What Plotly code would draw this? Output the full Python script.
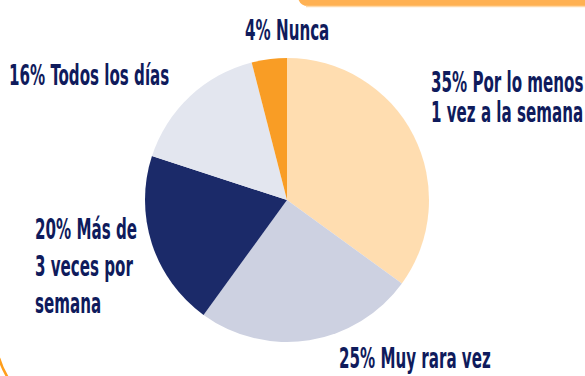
import plotly.graph_objects as go

W, H = 585, 376

# Survey shares, clockwise from 12 o'clock
categories = ["Por lo menos 1 vez a la semana", "Muy rara vez", "Más de 3 veces por semana",
              "Todos los días", "Nunca"]
shares = [35, 25, 20, 16, 4]
slice_colors = ["#FFDDB0", "#CDD1E1", "#1B2A69", "#E3E6EF", "#F99D25"]

# Label lines per slice (same order as categories)
label_lines = [
    ["35% Por lo menos", "1 vez a la semana"],
    ["25% Muy rara vez"],
    ["20% Más de", "3 veces por", "semana"],
    ["16% Todos los días"],
    ["4% Nunca"],
]

TEXT_COLOR = "#0F1B5C"
FONT = "DejaVu Sans Condensed, DejaVu Sans, sans-serif"
FONT_SIZE = 28
TEXT_SQUEEZE = 0.60  # horizontal compression for a condensed display face


def px(x):
    return x / W


def py(y):
    return 1 - y / H


# pie centre and radius in pixels
cx, cy, r = 287, 200, 142

fig = go.Figure(go.Pie(
    labels=categories,
    values=shares,
    sort=False,
    direction="clockwise",
    rotation=0,
    marker=dict(colors=slice_colors, line=dict(width=0)),
    textinfo="none",
    hoverinfo="label+percent",
    showlegend=False,
    domain=dict(x=[px(cx - r), px(cx + r)], y=[py(cy + r), py(cy - r)]),
))

# label anchor positions: (x, first-line centre y, line spacing, anchor)
label_pos = [
    (429, 83, 30, "left"),
    (337, 358, 30, "left"),
    (33, 229, 37, "left"),
    (7, 75, 30, "left"),
    (287, 31, 30, "center"),
]

annotations = []
for lines, (x, y0, dy, anchor) in zip(label_lines, label_pos):
    for i, line in enumerate(lines):
        annotations.append(dict(
            text=line, x=px(x), y=py(y0 + i * dy), xref="paper", yref="paper",
            xanchor=anchor, yanchor="middle", showarrow=False,
            align="left" if anchor == "left" else "center",
            font=dict(family=FONT, size=FONT_SIZE, color=TEXT_COLOR, weight="bold"),
        ))

# decorative frame pieces: top tab and lower-left rounded border
shapes = [
    dict(type="path", xref="paper", yref="paper",
         path=f"M {px(298)},{py(-2)} L {px(W)},{py(-2)} L {px(W)},{py(6)} "
              f"L {px(308)},{py(6)} Q {px(300)},{py(6)} {px(298)},{py(-2)} Z",
         fillcolor="#FFB152", line=dict(width=0), layer="above"),
    dict(type="line", xref="paper", yref="paper",
         x0=px(306), x1=px(W), y0=py(6.5), y1=py(6.5),
         line=dict(color="#FFD9A8", width=1.5)),
    dict(type="path", xref="paper", yref="paper",
         path=f"M {px(-1)},{py(358)} Q {px(2)},{py(368)} {px(8)},{py(378)}",
         line=dict(color="#FF9E1B", width=2.5)),
]

fig.update_layout(
    width=W, height=H,
    margin=dict(l=0, r=0, t=0, b=0),
    paper_bgcolor="white",
    plot_bgcolor="white",
    annotations=annotations,
    shapes=shapes,
)

# Narrow the label glyphs horizontally, keeping each label's anchor edge fixed
squeeze_js = """
var gd = document.getElementById('{plot_id}');
gd.querySelectorAll('text.annotation-text').forEach(function (el) {
  var b = el.getBBox();
  var a = el.getAttribute('text-anchor');
  var ax = a === 'middle' ? b.x + b.width / 2 : (a === 'end' ? b.x + b.width : b.x);
  var t = el.getAttribute('transform') || '';
  el.setAttribute('transform', t + ' translate(' + ax + ',0) scale(SQ,1) translate(' + (-ax) + ',0)');
});
""".replace("SQ", str(TEXT_SQUEEZE))

fig.write_html("out.html", post_script=squeeze_js)
